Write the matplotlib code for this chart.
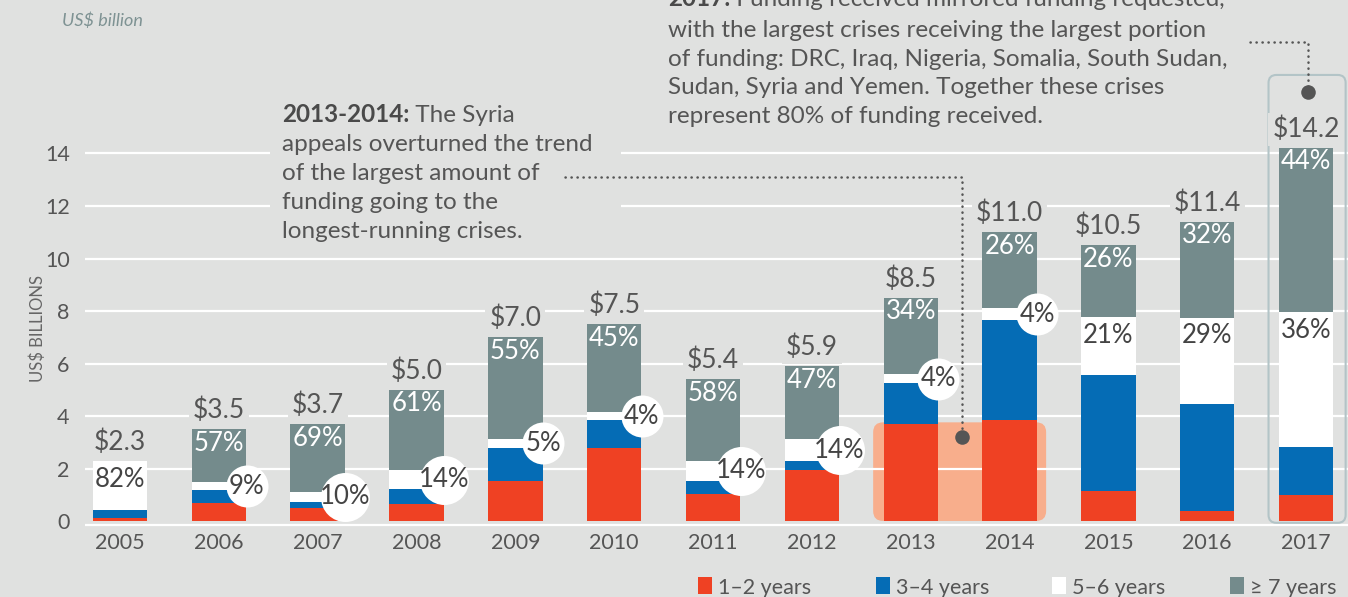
import matplotlib
matplotlib.use('Agg')
import matplotlib.pyplot as plt
from matplotlib.patches import FancyBboxPatch, Rectangle
import numpy as np

plt.rcParams['font.family'] = ['Lato', 'DejaVu Sans']

# funding by how long the appeal has been running, US$ billion
years = ['2005', '2006', '2007', '2008', '2009', '2010', '2011',
         '2012', '2013', '2014', '2015', '2016', '2017']
totals = [2.3, 3.5, 3.7, 5.0, 7.0, 7.5, 5.4, 5.9, 8.5, 11.0, 10.5, 11.4, 14.2]
yrs_1_2 = [0.12, 0.72, 0.50, 0.65, 1.55, 2.80, 1.05, 1.95, 3.70, 3.85, 1.15, 0.38, 1.00]
yrs_3_4 = [0.30, 0.46, 0.25, 0.58, 1.25, 1.05, 0.50, 0.35, 1.55, 3.80, 4.42, 4.07, 1.85]
yrs_5_6 = [1.88, 0.32, 0.37, 0.72, 0.35, 0.30, 0.76, 0.83, 0.35, 0.45, 2.20, 3.30, 5.10]
yrs_7_plus = [0.00, 2.00, 2.58, 3.05, 3.85, 3.35, 3.09, 2.77, 2.90, 2.90, 2.73, 3.65, 6.25]
pct_5_6 = [82, 9, 10, 14, 5, 4, 14, 14, 4, 4, 21, 29, 36]
pct_7_plus = [None, 57, 69, 61, 55, 45, 58, 47, 34, 26, 26, 32, 44]
legend_labels = ['1\u20132 years', '3\u20134 years', '5\u20136 years', '\u2265 7 years']

BG = '#e0e1e0'
RED = '#ef4123'
BLUE = '#056cb5'
WHITE = '#ffffff'
GREY = '#748b8c'
TXT = '#555555'
DOT = '#555555'
colors = [RED, BLUE, WHITE, GREY]

W, H = 1348, 597
fig = plt.figure(figsize=(W / 100, H / 100), dpi=100)
fig.patch.set_facecolor(BG)
ax = fig.add_axes([85 / W, 65 / H, 1263 / W, 532 / H])
ax.set_facecolor(BG)
ax.set_xlim(-0.354, 12.424)
ax.set_ylim(-0.4, 19.83)
for s in ax.spines.values():
    s.set_visible(False)

x = np.arange(len(years))
bw = 0.55

# white grid + base line
for v in range(2, 15, 2):
    ax.axhline(v, color='white', lw=1.6, zorder=0.5)
ax.axhline(-0.15, color='white', lw=1.6, zorder=0.5)

# highlight behind the 2013-2014 red bars
hl_top = max(yrs_1_2[8], yrs_1_2[9]) - 0.08
ax.add_patch(FancyBboxPatch((8 - 0.38, 0.02), 1.75, hl_top - 0.02,
                            boxstyle='round,pad=0,rounding_size=0.1',
                            mutation_aspect=98.85 / 26.3,
                            fc='#f8ae8c', ec='none', zorder=0.3))

# stacked bars
series = [yrs_1_2, yrs_3_4, yrs_5_6, yrs_7_plus]
bottom = np.zeros(len(years))
for vals, c in zip(series, colors):
    ax.bar(x, vals, bw, bottom=bottom, color=c, lw=0, zorder=2)
    bottom += np.array(vals)

# labels
for i in range(len(years)):
    tot = totals[i]
    # totals sit under the bars so their background only cuts the grid
    ax.annotate(f'${tot:.1f}', (i, tot), xytext=(0, 13.5), textcoords='offset points',
                ha='center', va='center', fontsize=19, color=TXT, zorder=1.5,
                bbox=dict(boxstyle='square,pad=0.15', fc=BG, ec='none'))
    if pct_7_plus[i] is not None:
        ax.annotate(f'{pct_7_plus[i]}%', (i, tot), xytext=(0, -10),
                    textcoords='offset points', ha='center', va='center',
                    fontsize=18.5, color='white', zorder=3)
    w_bot = yrs_1_2[i] + yrs_3_4[i]
    w_top = w_bot + yrs_5_6[i]
    lab = f'{pct_5_6[i]}%'
    if yrs_5_6[i] >= 1.5:
        ax.annotate(lab, (i, w_top), xytext=(0, -13), textcoords='offset points',
                    ha='center', va='center', fontsize=18.5, color='#444444', zorder=3)
    else:
        yc = (w_bot + w_top) / 2
        d = 42 if len(lab) <= 2 else 49
        ax.scatter([i + 0.28], [yc], s=(d * 0.72) ** 2, color='white', lw=0, zorder=4)
        ax.text(i + 0.28, yc, lab, ha='center', va='center', fontsize=18.5,
                color='#444444', zorder=5)

ax.set_yticks(range(0, 15, 2))
ax.set_xticks(x, years)
ax.tick_params(axis='y', length=0, labelsize=15.5, labelcolor=TXT, pad=11)
ax.tick_params(axis='x', length=0, labelsize=15.5, labelcolor=TXT, pad=1)

fig.text(38 / W, 1 - 328 / H, 'US$ BILLIONS', rotation=90, ha='center', va='center',
         fontsize=12, color='#666666')
fig.text(62 / W, 1 - 26 / H, 'US$ billion', style='italic', fontsize=13,
         color='#7e9293', va='baseline')

# 2013-2014 note
ax.add_patch(Rectangle((1.52, 10.5), 3.55, 5.7, fc=BG, ec='none', zorder=0.8))
note13 = ['appeals overturned the trend', 'of the largest amount of',
          'funding going to the', 'longest-running crises.']
t = fig.text(282 / W, 1 - 121.7 / H, '2013-2014:', weight='bold', fontsize=17.5,
             color='#4a4a4a', va='baseline')
ax.annotate(' The Syria', xy=(1, 0), xycoords=t, va='bottom', fontsize=17.5, color=TXT)
for k, line in enumerate(note13):
    fig.text(282 / W, 1 - (150.7 + 29 * k) / H, line, fontsize=17.5, color=TXT,
             va='baseline')

dots = dict(color=DOT, lw=1.8, linestyle=(0, (0.1, 2.3)), dash_capstyle='round', zorder=3)
ax.plot([4.5, 8.52, 8.52], [13.1, 13.1, 3.21], **dots)
ax.scatter([8.52], [3.21], s=110, color=DOT, lw=0, zorder=4)

# 2017 note
note17 = ['with the largest crises receiving the largest portion',
          'of funding: DRC, Iraq, Nigeria, Somalia, South Sudan,',
          'Sudan, Syria and Yemen. Together these crises',
          'represent 80% of funding received.']
t2 = fig.text(668 / W, 1 - 6 / H, '2017:', weight='bold', fontsize=17.5,
              color='#4a4a4a', va='baseline')
ax.annotate(' Funding received mirrored funding requested,', xy=(1, 0), xycoords=t2,
            va='bottom', fontsize=17.5, color=TXT)
for k, line in enumerate(note17):
    fig.text(668 / W, 1 - (37 + 28.7 * k) / H, line, fontsize=17.5, color=TXT,
             va='baseline')

ax.plot([11.43, 12.02, 12.02], [18.23, 18.23, 16.33], **dots)
ax.scatter([12.02], [16.33], s=110, color=DOT, lw=0, zorder=4)
ax.add_patch(FancyBboxPatch((12 - 0.38, -0.05), 0.78, totals[12] + 2.83,
                            boxstyle='round,pad=0,rounding_size=0.08',
                            mutation_aspect=98.85 / 26.3,
                            fc='none', ec='#b3c4c7', lw=1.5, zorder=1))

# legend
sq_x = [698, 876, 1052, 1230]
for sx, c, lab in zip(sq_x, colors, legend_labels):
    fig.add_artist(Rectangle((sx / W, 1 - 594 / H), 14 / W, 17 / H,
                             transform=fig.transFigure, fc=c, ec='none'))
    fig.text((sx + 20) / W, 1 - 586 / H, lab, fontsize=15.5, color=TXT,
             va='center_baseline')

fig.savefig('out.png', dpi=100, facecolor=BG)
